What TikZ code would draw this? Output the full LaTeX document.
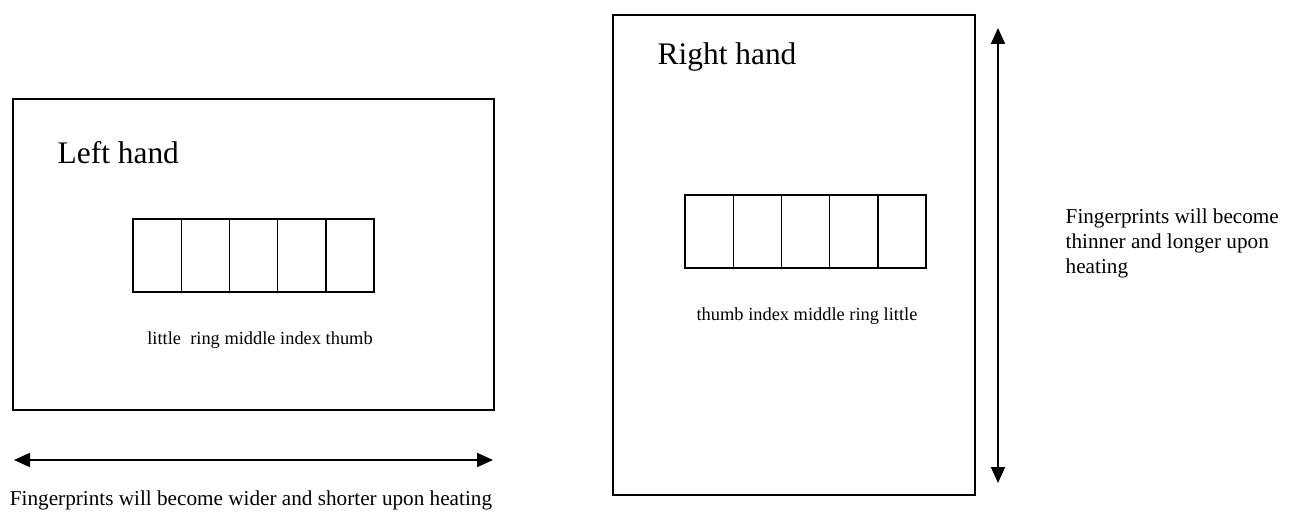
\documentclass[tikz,border=0pt]{standalone}
\usepackage{fontspec}
\setmainfont{Liberation Serif}
\usetikzlibrary{positioning, arrows.meta}
\newcommand{\titlefont}{\fontsize{15.7}{18}\selectfont}
\newcommand{\notefont}{\fontsize{10.6}{12.5}\selectfont}
\newcommand{\fingerfont}{\fontsize{9.2}{11}\selectfont}

\begin{document}
\begin{tikzpicture}[x=0.5pt, y=-0.5pt, line width=0.7pt,
  >={Triangle[length=8pt, width=7pt]},
  cell/.style={draw, outer sep=0pt, inner sep=0pt, minimum width=24.1pt, minimum height=36.5pt}]
  \useasboundingbox (0,0) rectangle (1295,518);

  % hand frames
  \node[draw, minimum width=240.5pt, minimum height=155.5pt] (lefthand) at (253.5,254.5) {};
  \node[draw, minimum width=181pt, minimum height=240pt] (righthand) at (794,255) {};
  \node[anchor=west, inner sep=0pt, font=\titlefont] (lefttitle) at (57,153) {Left hand};
  \node[anchor=west, inner sep=0pt, font=\titlefont] (righttitle) at (657,57) {Right hand};

  % finger cells
  \node[cell] (L1) at (157.1,255.5) {};
  \node[cell] (R1) at (709.1,231.5) {};
  \foreach \i [count=\j from 2] in {1,...,4} {
    \node[cell, right=0pt of L\i] (L\j) {};
    \node[cell, right=0pt of R\i] (R\j) {};
  }
  \node[inner sep=0pt, font=\fingerfont] (leftnames) at (260,340) {little\ \ ring middle index thumb};
  \node[inner sep=0pt, font=\fingerfont] (rightnames) at (807,316) {thumb index middle ring little};

  % stretch arrows
  \coordinate (wideL) at (14,460);
  \coordinate (wideR) at (493,460);
  \coordinate (longT) at (998,28);
  \coordinate (longB) at (998,483);
  \draw[<->, line width=1pt] (wideL) -- (wideR);
  \draw[<->, line width=1pt] (longT) -- (longB);
  \node[inner sep=0pt, font=\notefont] (widenote) at (251,500) {Fingerprints will become wider and shorter upon heating};
  \node[anchor=west, align=left, inner sep=0pt, font=\notefont] (longnote) at (1065,243) {Fingerprints will become\\thinner and longer upon\\heating};
\end{tikzpicture}
\end{document}
